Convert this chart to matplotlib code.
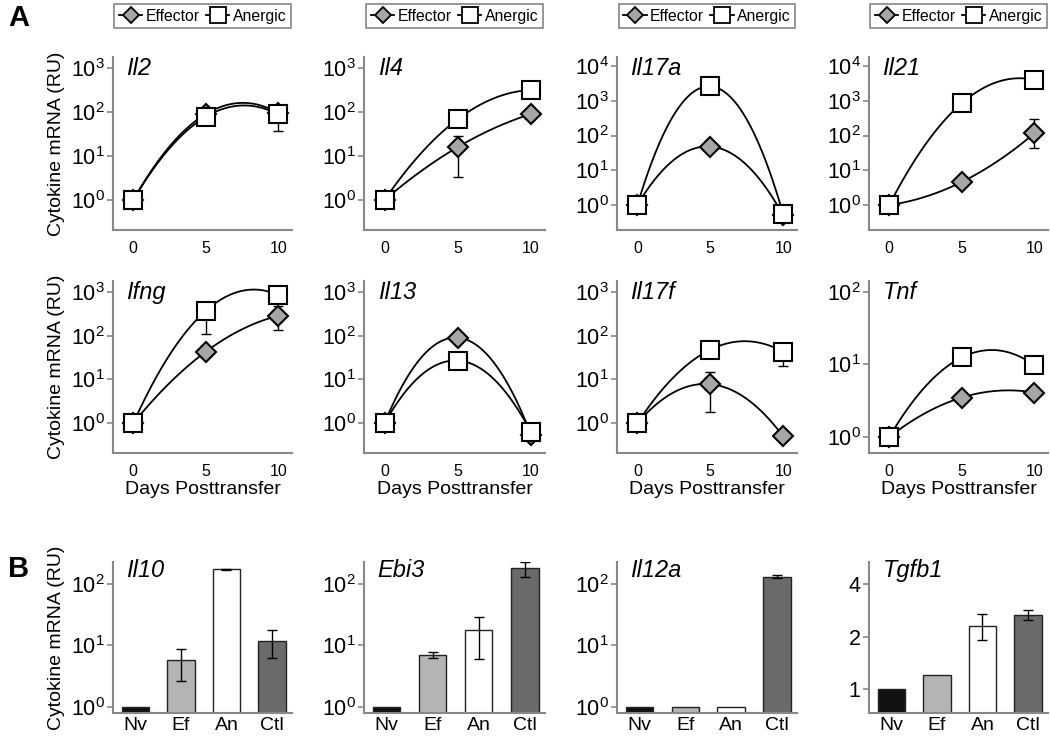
import numpy as np
import matplotlib
matplotlib.use("Agg")
import matplotlib.pyplot as plt
from matplotlib.lines import Line2D

plt.rcParams['font.family'] = ['Liberation Sans', 'DejaVu Sans']
plt.rcParams['mathtext.default'] = 'regular'

W, H = 1050, 739

# ---- panel A data: days posttransfer, effector / anergic relative mRNA ----
days = [0, 5, 10]
genes_a = ['Il2', 'Il4', 'Il17a', 'Il21', 'Ifng', 'Il13', 'Il17f', 'Tnf']
effector = [[1, 90, 95], [1, 16, 90], [1, 48, 0.5], [1, 4.6, 115],
            [1, 43, 285], [1, 90, 0.55], [1, 7.8, 0.5], [1, 3.5, 4.1]]
anergic = [[1, 78, 88], [1, 69, 316], [1, 2600, 0.55], [1, 850, 4000],
           [1, 370, 850], [1, 27, 0.62], [1, 48, 43], [1, 12.5, 9.8]]
nan = np.nan
eff_lo = [[nan, nan, nan], [nan, 3.3, nan], [nan, nan, nan], [nan, nan, 45],
          [nan, nan, 137], [nan, nan, nan], [nan, 1.8, nan], [nan, nan, nan]]
eff_hi = [[nan, nan, nan], [nan, 28, nan], [nan, nan, nan], [nan, nan, 290],
          [nan, nan, 480], [nan, nan, nan], [nan, 14.5, nan], [nan, nan, nan]]
an_lo = [[nan, nan, 37], [nan, nan, nan], [nan, nan, nan], [nan, nan, nan],
         [nan, 112, nan], [nan, nan, nan], [nan, nan, 20], [nan, nan, nan]]
an_hi = [[nan, nan, 110], [nan, nan, nan], [nan, nan, nan], [nan, nan, nan],
         [nan, 600, nan], [nan, nan, nan], [nan, nan, 66], [nan, nan, nan]]
ylim_a = [(-0.68, 3.25), (-0.68, 3.25), (-0.72, 4.26), (-0.72, 4.26),
          (-0.68, 3.25), (-0.68, 3.25), (-0.68, 3.25), (-0.22, 2.15)]
top_dec = [3, 3, 4, 4, 3, 3, 3, 2]

# ---- panel B data ----
genes_b = ['Il10', 'Ebi3', 'Il12a', 'Tgfb1']
groups = ['Nv', 'Ef', 'An', 'Ctl']
bar_colors = ['#111111', '#b4b4b4', '#ffffff', '#6a6a6a']
bar_vals = [[1, 5.7, 170, 11.6], [1, 6.9, 17.5, 180], [1, 1.0, 1.0, 130], [1, 1.2, 2.3, 2.66]]
bar_lo = [[nan, 2.6, 167, 6.2], [nan, 6.3, 5.9, 130], [nan, nan, nan, 124], [nan, nan, 1.91, 2.49]]
bar_hi = [[nan, 8.6, 173, 17.5], [nan, 7.7, 29, 225], [nan, nan, nan, 138], [nan, nan, 2.69, 2.83]]

col_left = [113, 364, 617, 869]
col_right = [292, 545, 797, 1048]
rows = [(57, 230), (281, 453), (562, 713)]
spine_col = '#888888'


def rect(l, t, r, b):
    return [l / W, 1 - b / H, (r - l) / W, (b - t) / H]


def style(ax):
    for s in ['top', 'right']:
        ax.spines[s].set_visible(False)
    for s in ['left', 'bottom']:
        ax.spines[s].set_color(spine_col)
        ax.spines[s].set_linewidth(1.5)
    ax.tick_params(axis='y', length=4, width=1.2, color=spine_col, labelsize=15.5, pad=2)
    ax.tick_params(axis='x', length=0, labelsize=11.5, pad=8)
    ax.minorticks_off()


fig = plt.figure(figsize=(W / 100, H / 100), dpi=100)
grid = np.linspace(0, 10, 100)

for i, g in enumerate(genes_a):
    r, c = divmod(i, 4)
    t, b = rows[r]
    ax = fig.add_axes(rect(col_left[c], t, col_right[c], b))
    ax.set_yscale('log')
    for vals, lo, hi, mk, fc, ms in [(effector[i], eff_lo[i], eff_hi[i], 'D', '#a6a6a6', 10),
                                     (anergic[i], an_lo[i], an_hi[i], 's', 'white', 13)]:
        v = np.array(vals, float)
        coef = np.polyfit(days, np.log10(v), 2)
        ax.plot(grid, 10 ** np.polyval(coef, grid), color='black', lw=1.3, zorder=2)
        lo = np.array(lo, float)
        hi = np.array(hi, float)
        m = ~np.isnan(lo)
        if m.any():
            ax.errorbar(np.array(days)[m], v[m], yerr=[v[m] - lo[m], hi[m] - v[m]],
                        fmt='none', ecolor='black', elinewidth=1, capsize=3.5, zorder=1)
        ax.plot(days, v, ls='none', marker=mk, ms=ms, mfc=fc, mec='black', mew=1.5, zorder=3)
    lo_e, hi_e = ylim_a[i]
    ax.set_ylim(10 ** lo_e, 10 ** hi_e)
    ax.set_xlim(-1.4, 10.95)
    ax.set_xticks(days)
    ax.set_yticks([10.0 ** k for k in range(0, top_dec[i] + 1)])
    ax.set_yticklabels(['$10^{%d}$' % k for k in range(0, top_dec[i] + 1)])
    style(ax)
    ax.text(0.075, 1.0, g, transform=ax.transAxes, va='top', ha='left',
            fontsize=17, style='italic')
    if c == 0:
        ax.set_ylabel('Cytokine mRNA (RU)', fontsize=14, labelpad=4)
    if r == 1:
        ax.set_xlabel('Days Posttransfer', fontsize=14, labelpad=1)
    if r == 0:
        h1 = Line2D([], [], color='black', lw=1.3, marker='D', ms=8.5, mfc='#a6a6a6', mec='black', mew=1.3)
        h2 = Line2D([], [], color='black', lw=1.3, marker='s', ms=11, mfc='white', mec='black', mew=1.3)
        leg = ax.legend([h1, h2], ['Effector', 'Anergic'], loc='lower center',
                        bbox_to_anchor=(0.5, 1.165), ncol=2, fontsize=11.3, frameon=True,
                        fancybox=False, handlelength=1.5, handletextpad=0.2,
                        columnspacing=0.4, borderpad=0.3, borderaxespad=0)
        leg.get_frame().set_edgecolor('#666666')
        leg.get_frame().set_linewidth(1.2)

x = np.arange(len(groups))
for i, g in enumerate(genes_b):
    t, b = rows[2]
    ax = fig.add_axes(rect(col_left[i], t, col_right[i], b))
    ax.set_yscale('log')
    if g == 'Tgfb1':
        ymin, ymax = 0.73, 5.35
        ticks = [1, 2, 4]
        labels = ['1', '2', '4']
    else:
        ymin, ymax = 10 ** -0.1, 10 ** 2.35
        ticks = [1, 10, 100]
        labels = ['$10^{%d}$' % k for k in range(3)]
    v = np.array(bar_vals[i], float)
    ax.bar(x, v - ymin, bottom=ymin, width=0.6, color=bar_colors,
           edgecolor='#222222', linewidth=1.0, zorder=2)
    lo = np.array(bar_lo[i], float)
    hi = np.array(bar_hi[i], float)
    m = ~np.isnan(lo)
    if m.any():
        ax.errorbar(x[m], v[m], yerr=[v[m] - lo[m], hi[m] - v[m]], fmt='none',
                    ecolor='black', elinewidth=1, capsize=3.5, zorder=3)
    ax.set_ylim(ymin, ymax)
    ax.set_xlim(-0.49, 3.44)
    ax.set_xticks(x)
    ax.set_xticklabels(groups)
    ax.set_yticks(ticks)
    ax.set_yticklabels(labels)
    style(ax)
    ax.tick_params(axis='x', labelsize=14, pad=3)
    ax.text(0.075, 1.02, g, transform=ax.transAxes, va='top', ha='left',
            fontsize=17, style='italic')
    if i == 0:
        ax.set_ylabel('Cytokine mRNA (RU)', fontsize=14, labelpad=4)

fig.text(8 / W, 1 - 4 / H, 'A', fontsize=21, fontweight='bold', va='top', ha='left')
fig.text(8 / W, 1 - 555 / H, 'B', fontsize=21, fontweight='bold', va='top', ha='left')

fig.savefig('out.png', dpi=100, facecolor='white')
